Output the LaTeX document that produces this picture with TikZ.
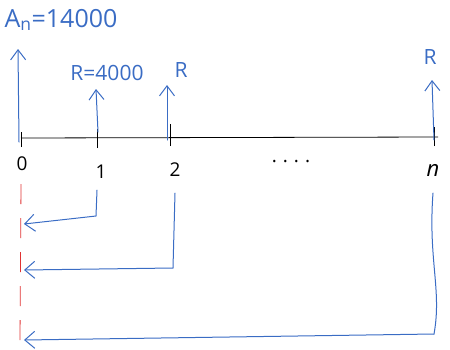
\documentclass[tikz,border=0pt]{standalone}
\usepackage{fontspec}
\setmainfont{Open Sans}
\usetikzlibrary{arrows.meta}
\definecolor{pen}{RGB}{58,108,196}
\definecolor{redpen}{RGB}{224,50,50}
\begin{document}
\begin{tikzpicture}[x=1pt,y=-1pt,
  blueln/.style={draw=pen,line width=1pt,line cap=round},
  uparrow/.style={blueln,-{Straight Barb[length=10pt,width=15pt]}},
  backarrow/.style={blueln,-{Straight Barb[length=10pt,width=17pt]}},
  tick/.style={draw=black,line width=0.8pt},
  lbl/.style={text=pen,font=\fontsize{21}{23}\selectfont,inner sep=0pt},
  num/.style={text=black,font=\fontsize{19}{21}\selectfont,inner sep=0pt}]
\useasboundingbox (0,0) rectangle (450,349);
% timeline
\coordinate (ls) at (21,138);
\coordinate (le) at (438,137);
\coordinate (t0) at (21,137);
\coordinate (t1) at (97,137);
\coordinate (t2) at (170,137);
\coordinate (tn) at (434,137);
\draw[tick] (ls) -- (le);
\draw[tick] ([yshift=-10]t0) -- ([yshift=5]t0);
\draw[tick] ([yshift=-11]t1) -- ([yshift=8]t1);
\draw[tick] ([yshift=-9]t2) -- ([yshift=13]t2);
\draw[tick] ([yshift=-9]tn) -- ([yshift=10]tn);
% period labels
\node[num] (n0) at (22,164) {0};
\node[num] (n1) at (101,172) {1};
\node[num] (n2) at (175,170) {2};
\node[num] (dots) at (291,162) {.\hspace{6pt}.\hspace{6pt}.\hspace{6pt}.};
\node[num,font=\fontsize{22}{24}\selectfont\itshape] (nn) at (433,170) {n};
% up arrows (cash flows)
\coordinate (a0s) at (19,142);
\coordinate (a0e) at (18,49);
\coordinate (a1s) at (98,132);
\coordinate (a1e) at (96,89);
\coordinate (a2s) at (167,140);
\coordinate (a2e) at (167,85);
\coordinate (ans) at (434,140);
\coordinate (ane) at (432,80);
\draw[uparrow] (a0s) -- (a0e);
\draw[uparrow] (a1s) -- (a1e);
\draw[uparrow] (a2s) -- (a2e);
\draw[uparrow] (ans) -- (ane);
\node[lbl,font=\fontsize{25}{27}\selectfont] (An) at (61,20) {A\textsubscript{n}=14000};
\node[lbl] (R1) at (107,73) {R=4000};
\node[lbl] (R2) at (181,70) {R};
\node[lbl] (Rn) at (430,57) {R};
% red dashed reference line
\coordinate (rs) at (21,184);
\coordinate (re) at (20,340);
\draw[draw=redpen,line width=0.8pt,dash pattern=on 20pt off 14pt] (rs) -- (re);
% discounting arrows
\coordinate (b1s) at (97,190);
\coordinate (b1c) at (96,216);
\coordinate (b1e) at (24,224);
\coordinate (b2s) at (175,193);
\coordinate (b2c) at (173,268);
\coordinate (b2e) at (24,270);
\coordinate (b3s) at (433,193);
\coordinate (b3c) at (434,334);
\coordinate (b3e) at (24,340);
\draw[backarrow] (b1s) -- (b1c) -- (b1e);
\draw[backarrow] (b2s) -- (b2c) -- (b2e);
\draw[blueln] (b3s) .. controls (428,260) and (442,290) .. (b3c);
\draw[backarrow] (b3c) -- (b3e);
\end{tikzpicture}
\end{document}
